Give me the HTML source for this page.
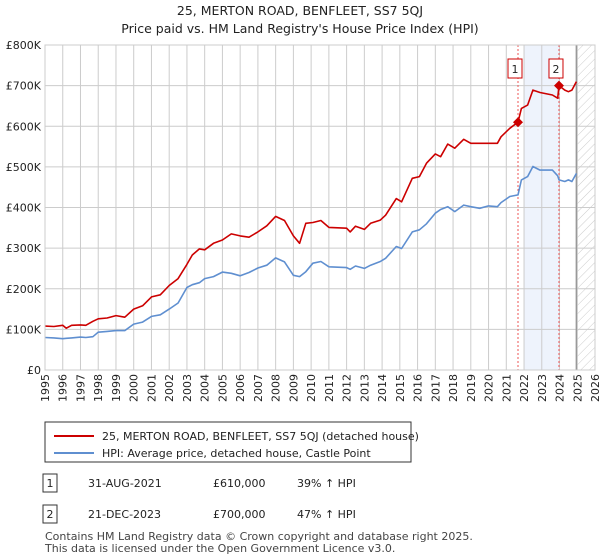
<!DOCTYPE html>
<html><head><meta charset="utf-8"><style>
body{margin:0;background:#fff;font-family:"DejaVu Sans","Liberation Sans",sans-serif;}
#wrap{position:relative;width:600px;height:560px;overflow:hidden}
</style></head><body><div id="wrap">
<svg id="svg" width="600" height="560" xmlns="http://www.w3.org/2000/svg" style="position:absolute;left:0;top:0;font-family:'DejaVu Sans','Liberation Sans',sans-serif">
<defs><pattern id="hatch" width="6" height="6" patternUnits="userSpaceOnUse" patternTransform="rotate(45)"><line x1="0" y1="0" x2="0" y2="6" stroke="#ccc" stroke-width="1"/></pattern></defs>
<text x="300" y="15" text-anchor="middle" font-size="12.5" fill="#222">25, MERTON ROAD, BENFLEET, SS7 5QJ</text>
<text x="300" y="33" text-anchor="middle" font-size="12.5" fill="#222">Price paid vs. HM Land Registry's House Price Index (HPI)</text>
<g id="plot"></g>
<g>
<rect x="45" y="422" width="366" height="40" fill="#fff" stroke="#333" stroke-width="1"/>
<line x1="54" y1="436" x2="94" y2="436" stroke="#cc0000" stroke-width="2"/>
<text x="102" y="440" font-size="11" fill="#222">25, MERTON ROAD, BENFLEET, SS7 5QJ (detached house)</text>
<line x1="54" y1="453" x2="94" y2="453" stroke="#5f8fd0" stroke-width="2"/>
<text x="102" y="457" font-size="11" fill="#222">HPI: Average price, detached house, Castle Point</text>
</g>
<g font-size="11" fill="#222">
<rect x="43" y="474" width="14" height="18" fill="#fff" stroke="#333"/><text x="50" y="487" text-anchor="middle">1</text>
<text x="88" y="487">31-AUG-2021</text><text x="213" y="487">£610,000</text><text x="297" y="487">39% ↑ HPI</text>
<rect x="43" y="505" width="14" height="18" fill="#fff" stroke="#333"/><text x="50" y="518" text-anchor="middle">2</text>
<text x="88" y="518">21-DEC-2023</text><text x="213" y="518">£700,000</text><text x="297" y="518">47% ↑ HPI</text>
</g>
<text x="45" y="540" font-size="11" fill="#444">Contains HM Land Registry data © Crown copyright and database right 2025.</text>
<text x="45" y="552" font-size="11" fill="#444">This data is licensed under the Open Government Licence v3.0.</text>
</svg></div>
<script>
const years=[1995,1995.5,1996,1996.2,1996.5,1997,1997.3,1997.7,1998,1998.5,1999,1999.5,2000,2000.5,2001,2001.5,2002,2002.5,2003,2003.3,2003.7,2004,2004.5,2005,2005.5,2006,2006.5,2007,2007.5,2008,2008.5,2009,2009.35,2009.7,2010.1,2010.55,2011,2012,2012.2,2012.5,2013,2013.35,2013.9,2014.2,2014.8,2015.1,2015.7,2016.1,2016.5,2017,2017.3,2017.7,2018.1,2018.6,2019,2019.5,2020,2020.5,2020.7,2021.2,2021.66,2021.85,2022.2,2022.5,2022.9,2023.6,2023.9,2023.97,2024.3,2024.5,2024.7,2024.95];
const priceRed=[108,107,110,103,110,111,110,120,126,128,134,130,150,158,180,185,208,225,260,283,298,296,312,320,335,330,327,340,355,378,368,330,312,361,363,368,351,349,340,354,346,361,369,381,422,414,472,476,509,532,525,556,546,568,558,558,558,558,574,595,610,644,652,689,683,677,669,700,689,685,689,710];
const hpiBlue=[80,79,77,78,79,81,80,82,93,95,97,97,113,118,132,136,150,165,203,210,215,225,230,241,238,232,240,251,258,276,266,233,230,242,263,267,254,252,248,256,250,258,267,275,304,299,340,345,360,386,395,402,390,406,402,398,404,402,412,427,431,468,476,501,492,492,478,468,464,468,464,484];
const yTicks=[0,100,200,300,400,500,600,700,800];
const yTickLabels=["£0","£100K","£200K","£300K","£400K","£500K","£600K","£700K","£800K"];
const xTicks=[1995,1996,1997,1998,1999,2000,2001,2002,2003,2004,2005,2006,2007,2008,2009,2010,2011,2012,2013,2014,2015,2016,2017,2018,2019,2020,2021,2022,2023,2024,2025,2026];
const saleYears=[2021.66,2023.97];
const salePrices=[610,700];
const saleLabels=["1","2"];
const X0=45,X1=595,Y0=370,Y1=45;
const xs=y=>X0+(y-1995)/(2026-1995)*(X1-X0);
const ys=v=>Y0-v/800*(Y0-Y1);
const NS="http://www.w3.org/2000/svg";
const g=document.getElementById('plot');
function mk(t,a,p){const e=document.createElementNS(NS,t);for(const k in a)e.setAttribute(k,a[k]);(p||g).appendChild(e);return e;}
let e=mk('rect',{x:xs(2022),y:Y1,width:xs(saleYears[1])-xs(2022),height:Y0-Y1,fill:'#eef3fc'});


e=mk('rect',{x:xs(2024.95),y:Y1,width:X1-xs(2024.95),height:Y0-Y1,fill:'url(#hatch)'});


xTicks.forEach(t=>{const x=xs(t);
const l=mk('line',{x1:x,y1:Y1,x2:x,y2:Y0,stroke:'#ccc','stroke-width':1});


const tx=mk('text',{x:0,y:0,transform:`translate(${x+4},${Y0+4}) rotate(-90)`,'text-anchor':'end','font-size':11,fill:'#222'});
tx.textContent=t;

});
yTicks.forEach((t,i)=>{const y=ys(t);
const l=mk('line',{x1:X0,y1:y,x2:X1,y2:y,stroke:'#ccc','stroke-width':1});


const tx=mk('text',{x:X0-4,y:y+4,'text-anchor':'end','font-size':11,fill:'#222'});
tx.textContent=yTickLabels[i];

});
e=mk('line',{x1:xs(2024.95),y1:Y1,x2:xs(2024.95),y2:Y0,stroke:'#999','stroke-width':1.5});


saleYears.forEach((s,i)=>{const x=xs(s);
const l=mk('line',{x1:x,y1:Y1,x2:x,y2:Y0,stroke:'#e55','stroke-width':1,'stroke-dasharray':'2,2'});


const b=mk('rect',{x:x-10,y:59,width:14,height:19,fill:'#fff',stroke:'#cc0000'});


const t=mk('text',{x:x-3,y:73,'text-anchor':'middle','font-size':11,fill:'#222'});
t.textContent=saleLabels[i];

});
function path(vals,color,name){const d=years.map((y,i)=>(i?'L':'M')+xs(y).toFixed(1)+','+ys(vals[i]).toFixed(1)).join('');
const p=mk('path',{d,fill:'none',stroke:color,'stroke-width':1.6,'stroke-linejoin':'round'});

}
path(hpiBlue,'#5f8fd0','hpi-line');
path(priceRed,'#cc0000','price-line');
saleYears.forEach((s,i)=>{const x=xs(s),y=ys(salePrices[i]);
const p=mk('path',{d:`M${x},${y-5}L${x+5},${y}L${x},${y+5}L${x-5},${y}Z`,fill:'#cc0000'});

});
const f=mk('rect',{x:X0,y:Y1,width:X1-X0,height:Y0-Y1,fill:'none',stroke:'#ccc'});


</script></body></html>
